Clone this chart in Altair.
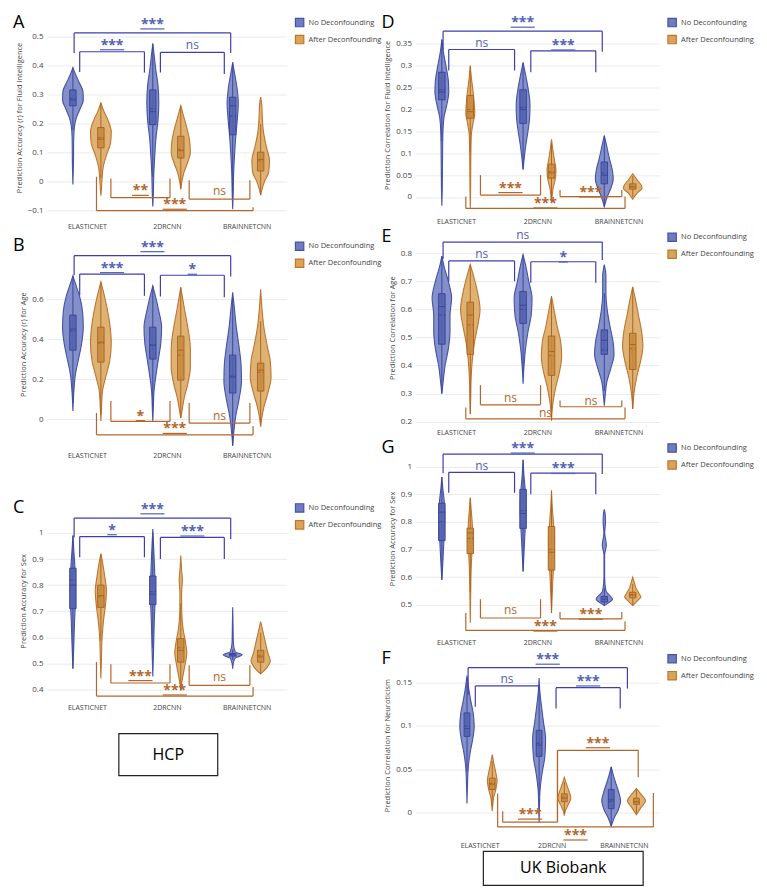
import altair as alt
import pandas as pd

FONT = "Open Sans"
CATS = ["ELASTICNET", "2DRCNN", "BRAINNETCNN"]
GROUPS = ["No Deconfounding", "After Deconfounding"]

VIOLIN_FILL = ["#6f7dc0", "#d8a45a"]
VIOLIN_STROKE = ["#4552a8", "#c0752f"]
BOX_FILL = ["#5563ae", "#c88c42"]
BOX_STROKE = ["#3b479c", "#ad6623"]
BRACKET = ["#3d3fae", "#b4672c"]
LABEL = ["#5262b6", "#b4672c"]
AXIS_GREY = "#444444"
GRID = "#ebebeb"

# Violin order in every panel: EN-No, EN-After, 2D-No, 2D-After, BNC-No, BNC-After
# profile = (value, half width in category units); box = (q1, median, q3, mean)
# bracket = (colour 0 blue / 1 orange, x1, x2, y of bar, y of left end, y of right end, label, label y)

A_VIOLINS = [
    [(0.392, 0), (0.37, 0.03), (0.34, 0.08), (0.31, 0.125), (0.28, 0.13), (0.25, 0.09), (0.22, 0.045), (0.19, 0.02), (0.15, 0.01), (0.05, 0.006), (-0.012, 0)],
    [(0.27, 0), (0.24, 0.04), (0.21, 0.09), (0.17, 0.13), (0.13, 0.12), (0.09, 0.07), (0.05, 0.03), (0.01, 0.015), (-0.03, 0.006), (-0.05, 0)],
    [(0.475, 0), (0.44, 0.015), (0.39, 0.035), (0.33, 0.065), (0.27, 0.075), (0.21, 0.065), (0.15, 0.04), (0.09, 0.025), (0.02, 0.012), (-0.05, 0.006), (-0.088, 0)],
    [(0.26, 0), (0.23, 0.03), (0.19, 0.07), (0.14, 0.11), (0.10, 0.12), (0.06, 0.08), (0.03, 0.04), (0.0, 0.015), (-0.028, 0)],
    [(0.41, 0), (0.37, 0.025), (0.32, 0.055), (0.27, 0.07), (0.22, 0.06), (0.16, 0.04), (0.10, 0.025), (0.03, 0.012), (-0.05, 0.006), (-0.097, 0)],
    [(0.29, 0), (0.26, 0.015), (0.22, 0.02), (0.17, 0.035), (0.12, 0.07), (0.07, 0.11), (0.03, 0.10), (0.0, 0.05), (-0.03, 0.015), (-0.048, 0)],
]
A_BOXES = [(0.26, 0.28, 0.315, 0.285), (0.115, 0.145, 0.185, 0.15), (0.195, 0.24, 0.315, 0.25),
           (0.08, 0.105, 0.155, 0.11), (0.16, 0.26, 0.29, 0.225), (0.035, 0.075, 0.10, 0.07)]
A_BRACKETS = [
    (0, -0.16, 1.80, 0.512, 0.443, 0.443, "***", 0.55),
    (0, -0.09, 0.72, 0.447, 0.377, 0.375, "***", 0.478),
    (0, 0.92, 1.72, 0.445, 0.375, 0.37, "ns", 0.47),
    (1, 0.30, 1.04, -0.057, 0.009, 0.009, "**", -0.025),
    (1, 1.28, 2.04, -0.062, 0.003, 0.003, "ns", -0.034),
    (1, 0.12, 2.08, -0.102, 0.015, -0.09, "***", -0.073),
]

B_VIOLINS = [
    [(0.717, 0), (0.68, 0.03), (0.62, 0.08), (0.54, 0.12), (0.46, 0.13), (0.38, 0.11), (0.30, 0.07), (0.22, 0.03), (0.14, 0.012), (0.04, 0)],
    [(0.687, 0), (0.64, 0.03), (0.57, 0.07), (0.48, 0.11), (0.38, 0.13), (0.29, 0.11), (0.21, 0.06), (0.14, 0.02), (0.06, 0.008), (-0.01, 0)],
    [(0.667, 0), (0.62, 0.03), (0.55, 0.07), (0.46, 0.11), (0.38, 0.10), (0.30, 0.07), (0.22, 0.04), (0.14, 0.015), (0.05, 0.006), (-0.01, 0)],
    [(0.66, 0), (0.60, 0.025), (0.52, 0.06), (0.43, 0.10), (0.35, 0.12), (0.26, 0.12), (0.18, 0.09), (0.10, 0.04), (0.04, 0.015), (0.005, 0)],
    [(0.634, 0), (0.56, 0.02), (0.46, 0.045), (0.36, 0.08), (0.27, 0.105), (0.19, 0.11), (0.10, 0.08), (0.02, 0.04), (-0.06, 0.015), (-0.134, 0)],
    [(0.65, 0), (0.56, 0.015), (0.46, 0.04), (0.37, 0.08), (0.29, 0.12), (0.21, 0.13), (0.13, 0.09), (0.06, 0.04), (0.0, 0.012), (-0.037, 0)],
]
B_BOXES = [(0.345, 0.45, 0.52, 0.44), (0.285, 0.385, 0.46, 0.38), (0.30, 0.37, 0.46, 0.37),
           (0.195, 0.345, 0.415, 0.32), (0.13, 0.21, 0.32, 0.215), (0.14, 0.245, 0.28, 0.235)]
B_BRACKETS = [
    (0, -0.16, 1.80, 0.818, 0.72, 0.714, "***", 0.873),
    (0, -0.09, 0.72, 0.726, 0.62, 0.617, "***", 0.768),
    (0, 0.92, 1.72, 0.72, 0.613, 0.61, "*", 0.76),
    (1, 0.30, 1.04, -0.012, 0.09, 0.09, "*", 0.027),
    (1, 1.28, 2.04, -0.02, 0.08, 0.08, "ns", 0.017),
    (1, 0.12, 2.08, -0.079, 0.03, -0.035, "***", -0.037),
]

C_VIOLINS = [
    [(0.99, 0), (0.93, 0.012), (0.87, 0.025), (0.80, 0.032), (0.73, 0.03), (0.66, 0.02), (0.58, 0.012), (0.48, 0)],
    [(0.92, 0), (0.88, 0.025), (0.83, 0.05), (0.78, 0.07), (0.73, 0.06), (0.67, 0.035), (0.60, 0.015), (0.52, 0.007), (0.442, 0)],
    [(1.015, 0), (0.95, 0.01), (0.88, 0.02), (0.80, 0.027), (0.74, 0.027), (0.66, 0.018), (0.56, 0.01), (0.45, 0)],
    [(0.913, 0), (0.86, 0.01), (0.82, 0.02), (0.77, 0.01), (0.70, 0.012), (0.63, 0.03), (0.58, 0.06), (0.54, 0.075), (0.49, 0.05), (0.44, 0.02), (0.397, 0)],
    [(0.715, 0), (0.65, 0.004), (0.58, 0.008), (0.545, 0.03), (0.533, 0.12), (0.52, 0.03), (0.50, 0.008), (0.48, 0)],
    [(0.66, 0), (0.62, 0.03), (0.58, 0.06), (0.54, 0.09), (0.51, 0.12), (0.485, 0.08), (0.46, 0)],
]
C_BOXES = [(0.71, 0.80, 0.865, 0.82), (0.715, 0.76, 0.80, 0.755), (0.725, 0.765, 0.835, 0.775),
           (0.505, 0.55, 0.595, 0.56), (0.528, 0.533, 0.538, 0.535), (0.505, 0.525, 0.55, 0.53)]
C_BRACKETS = [
    (0, -0.16, 1.80, 1.057, 0.983, 0.977, "***", 1.10),
    (0, -0.09, 0.72, 0.986, 0.907, 0.907, "*", 1.02),
    (0, 0.92, 1.72, 0.983, 0.90, 0.90, "***", 1.015),
    (1, 0.30, 1.04, 0.425, 0.497, 0.497, "***", 0.461),
    (1, 1.28, 2.04, 0.416, 0.493, 0.493, "ns", 0.448),
    (1, 0.12, 2.08, 0.375, 0.505, 0.41, "***", 0.406),
]

D_VIOLINS = [
    [(0.36, 0), (0.33, 0.02), (0.30, 0.05), (0.265, 0.08), (0.24, 0.085), (0.21, 0.06), (0.18, 0.025), (0.14, 0.012), (0.08, 0.008), (0.02, 0.005), (-0.02, 0)],
    [(0.30, 0), (0.27, 0.015), (0.24, 0.035), (0.21, 0.05), (0.19, 0.055), (0.17, 0.035), (0.14, 0.012), (0.08, 0.006), (0.02, 0.004), (-0.026, 0)],
    [(0.307, 0), (0.28, 0.03), (0.25, 0.06), (0.21, 0.085), (0.18, 0.08), (0.15, 0.06), (0.12, 0.035), (0.09, 0.015), (0.063, 0)],
    [(0.132, 0), (0.11, 0.015), (0.085, 0.035), (0.06, 0.055), (0.04, 0.045), (0.02, 0.02), (0.0, 0.006), (-0.012, 0)],
    [(0.14, 0), (0.12, 0.025), (0.09, 0.06), (0.06, 0.10), (0.04, 0.11), (0.02, 0.08), (0.0, 0.035), (-0.022, 0)],
    [(0.053, 0), (0.04, 0.05), (0.025, 0.11), (0.02, 0.115), (0.01, 0.06), (-0.005, 0)],
]
D_BOXES = [(0.222, 0.24, 0.285, 0.245), (0.18, 0.195, 0.232, 0.2), (0.168, 0.2, 0.245, 0.205),
           (0.043, 0.055, 0.075, 0.058), (0.03, 0.05, 0.08, 0.055), (0.018, 0.023, 0.03, 0.024)]
D_BRACKETS = [
    (0, -0.16, 1.80, 0.379, 0.336, 0.332, "***", 0.404),
    (0, -0.09, 0.72, 0.337, 0.289, 0.289, "ns", 0.351),
    (0, 0.92, 1.72, 0.334, 0.285, 0.285, "***", 0.352),
    (1, 0.30, 1.04, 0.0045, 0.05, 0.05, "***", 0.026),
    (1, 1.28, 2.04, 0.001, 0.016, 0.016, "***", 0.016),
    (1, 0.12, 2.08, -0.026, 0.001, 0.001, "***", -0.009),
]

E_VIOLINS = [
    [(0.79, 0), (0.75, 0.03), (0.70, 0.08), (0.64, 0.12), (0.58, 0.10), (0.52, 0.10), (0.46, 0.08), (0.40, 0.04), (0.34, 0.015), (0.30, 0)],
    [(0.76, 0), (0.72, 0.04), (0.66, 0.09), (0.60, 0.12), (0.54, 0.09), (0.48, 0.05), (0.42, 0.025), (0.35, 0.01), (0.28, 0.005), (0.227, 0)],
    [(0.795, 0), (0.76, 0.03), (0.70, 0.07), (0.64, 0.11), (0.58, 0.10), (0.52, 0.06), (0.46, 0.03), (0.40, 0.012), (0.335, 0)],
    [(0.647, 0), (0.60, 0.03), (0.54, 0.07), (0.48, 0.115), (0.43, 0.125), (0.38, 0.10), (0.32, 0.05), (0.26, 0.015), (0.204, 0)],
    [(0.76, 0), (0.72, 0.02), (0.66, 0.02), (0.60, 0.035), (0.54, 0.07), (0.48, 0.11), (0.44, 0.12), (0.39, 0.08), (0.34, 0.03), (0.29, 0.01), (0.257, 0)],
    [(0.68, 0), (0.64, 0.03), (0.58, 0.07), (0.52, 0.11), (0.47, 0.125), (0.42, 0.10), (0.36, 0.05), (0.30, 0.015), (0.245, 0)],
]
E_BOXES = [(0.476, 0.61, 0.656, 0.58), (0.44, 0.58, 0.626, 0.545), (0.55, 0.615, 0.664, 0.6),
           (0.365, 0.45, 0.505, 0.435), (0.44, 0.49, 0.527, 0.455), (0.386, 0.475, 0.515, 0.46)]
E_BRACKETS = [
    (0, -0.16, 1.80, 0.84, 0.78, 0.776, "ns", 0.867),
    (0, -0.09, 0.72, 0.773, 0.70, 0.70, "ns", 0.797),
    (0, 0.92, 1.72, 0.77, 0.695, 0.695, "*", 0.794),
    (1, 0.30, 1.04, 0.26, 0.33, 0.33, "ns", 0.286),
    (1, 1.28, 2.04, 0.253, 0.275, 0.275, "ns", 0.274),
    (1, 0.12, 2.08, 0.21, 0.25, 0.25, "ns", 0.23),
]

G_VIOLINS = [
    [(0.962, 0), (0.92, 0.012), (0.87, 0.03), (0.82, 0.035), (0.76, 0.03), (0.70, 0.02), (0.64, 0.01), (0.59, 0)],
    [(0.887, 0), (0.84, 0.012), (0.79, 0.025), (0.75, 0.028), (0.70, 0.022), (0.64, 0.012), (0.56, 0.006), (0.435, 0)],
    [(1.024, 0), (0.97, 0.01), (0.92, 0.025), (0.86, 0.035), (0.80, 0.03), (0.74, 0.02), (0.68, 0.01), (0.62, 0)],
    [(0.913, 0), (0.85, 0.01), (0.79, 0.025), (0.72, 0.035), (0.66, 0.03), (0.60, 0.018), (0.53, 0.008), (0.47, 0)],
    [(0.845, 0), (0.83, 0.01), (0.80, 0.015), (0.76, 0.005), (0.715, 0.025), (0.68, 0.004), (0.60, 0.004), (0.55, 0.02), (0.52, 0.10), (0.505, 0.04), (0.497, 0)],
    [(0.60, 0), (0.58, 0.02), (0.56, 0.04), (0.54, 0.08), (0.528, 0.10), (0.515, 0.06), (0.497, 0)],
]
G_BOXES = [(0.732, 0.835, 0.867, 0.8), (0.685, 0.76, 0.777, 0.74), (0.776, 0.83, 0.917, 0.84),
           (0.625, 0.69, 0.783, 0.7), (0.51, 0.52, 0.53, 0.53), (0.525, 0.535, 0.545, 0.537)]
G_BRACKETS = [
    (0, -0.16, 1.80, 1.045, 0.976, 0.973, "***", 1.074),
    (0, -0.09, 0.72, 0.979, 0.905, 0.905, "ns", 1.002),
    (0, 0.92, 1.72, 0.976, 0.90, 0.90, "***", 1.0),
    (1, 0.30, 1.04, 0.452, 0.52, 0.52, "ns", 0.482),
    (1, 1.28, 2.04, 0.449, 0.474, 0.474, "***", 0.473),
    (1, 0.12, 2.08, 0.407, 0.47, 0.44, "***", 0.43),
]

F_VIOLINS = [
    [(0.158, 0), (0.145, 0.02), (0.13, 0.05), (0.115, 0.085), (0.10, 0.10), (0.085, 0.08), (0.07, 0.045), (0.055, 0.02), (0.035, 0.008), (0.011, 0)],
    [(0.067, 0), (0.058, 0.02), (0.048, 0.045), (0.037, 0.067), (0.027, 0.05), (0.018, 0.02), (0.008, 0.006), (0.002, 0)],
    [(0.155, 0), (0.14, 0.01), (0.125, 0.03), (0.105, 0.06), (0.085, 0.09), (0.065, 0.08), (0.045, 0.04), (0.025, 0.012), (0.005, 0.005), (-0.011, 0)],
    [(0.041, 0), (0.033, 0.03), (0.025, 0.065), (0.017, 0.09), (0.009, 0.05), (0.002, 0.012), (-0.003, 0)],
    [(0.053, 0), (0.045, 0.025), (0.035, 0.06), (0.025, 0.10), (0.014, 0.13), (0.004, 0.1), (-0.006, 0.04), (-0.015, 0)],
    [(0.028, 0), (0.022, 0.06), (0.014, 0.125), (0.007, 0.07), (-0.002, 0)],
]
F_BOXES = [(0.088, 0.097, 0.115, 0.1), (0.027, 0.033, 0.04, 0.034), (0.065, 0.078, 0.095, 0.08),
           (0.013, 0.017, 0.022, 0.018), (0.005, 0.015, 0.027, 0.013), (0.01, 0.013, 0.017, 0.013)]
F_BRACKETS = [
    (0, -0.16, 2.05, 0.167, 0.136, 0.143, "***", 0.179),
    (0, -0.06, 0.82, 0.146, 0.122, 0.14, "ns", 0.154),
    (0, 1.06, 1.95, 0.144, 0.12, 0.12, "***", 0.154),
    (1, 0.32, 1.08, -0.0105, 0.002, 0.072, "***", 0.001),
    (1, 1.08, 2.20, 0.072, -0.0105, 0.041, "***", 0.083),
    (1, 0.25, 2.41, -0.016, 0.022, 0.023, "***", -0.023),
]

PANELS = {
    "A": dict(ytitle="Prediction Accuracy (r) for Fluid Intelligence", ydom=[-0.125, 0.565],
              ticks=[-0.1, 0, 0.1, 0.2, 0.3, 0.4, 0.5], xdom=[-0.5, 2.5], height=200,
              violins=A_VIOLINS, boxes=A_BOXES, brackets=A_BRACKETS),
    "B": dict(ytitle="Prediction Accuracy (r) for Age", ydom=[-0.14, 0.89],
              ticks=[0, 0.2, 0.4, 0.6], xdom=[-0.5, 2.5], height=206,
              violins=B_VIOLINS, boxes=B_BOXES, brackets=B_BRACKETS),
    "C": dict(ytitle="Prediction Accuracy for Sex", ydom=[0.365, 1.115],
              ticks=[0.4, 0.5, 0.6, 0.7, 0.8, 0.9, 1], xdom=[-0.5, 2.5], height=196,
              violins=C_VIOLINS, boxes=C_BOXES, brackets=C_BRACKETS),
    "D": dict(ytitle="Prediction Correlation for Fluid Intelligence", ydom=[-0.035, 0.41],
              ticks=[0, 0.05, 0.1, 0.15, 0.2, 0.25, 0.3, 0.35], xdom=[-0.5, 2.5], height=195,
              violins=D_VIOLINS, boxes=D_BOXES, brackets=D_BRACKETS),
    "E": dict(ytitle="Prediction Correlation for Age", ydom=[0.195, 0.875],
              ticks=[0.2, 0.3, 0.4, 0.5, 0.6, 0.7, 0.8], xdom=[-0.5, 2.5], height=191,
              violins=E_VIOLINS, boxes=E_BOXES, brackets=E_BRACKETS),
    "G": dict(ytitle="Prediction Accuracy for Sex", ydom=[0.395, 1.085],
              ticks=[0.5, 0.6, 0.7, 0.8, 0.9, 1], xdom=[-0.5, 2.5], height=191,
              violins=G_VIOLINS, boxes=G_BOXES, brackets=G_BRACKETS),
    "F": dict(ytitle="Prediction Correlation for Neuroticism", ydom=[-0.027, 0.183],
              ticks=[0, 0.05, 0.1, 0.15], xdom=[-0.89, 2.49], height=183,
              violins=F_VIOLINS, boxes=F_BOXES, brackets=F_BRACKETS),
}

OFF = 0.175
BOX_HW = 0.04
LABEL_EXPR = "[" + ",".join("'%s'" % c for c in CATS) + "][datum.value]"
W_LEFT, W_RIGHT = 240, 244


def make_panel(letter, width):
    p = PANELS[letter]
    ppu = width / (p["xdom"][1] - p["xdom"][0])
    xs = alt.Scale(domain=p["xdom"], nice=False, zero=False)
    ys = alt.Scale(domain=p["ydom"], nice=False, zero=False)
    xaxis = alt.Axis(values=[0, 1, 2], labelExpr=LABEL_EXPR, grid=False, domain=False, ticks=False,
                     title=None, labelFont=FONT, labelFontSize=7, labelColor=AXIS_GREY, labelPadding=5)
    yaxis = alt.Axis(values=p["ticks"], format="~g", grid=True, gridColor=GRID, domain=False, ticks=False,
                     title=p["ytitle"], titleFont=FONT, titleFontSize=7.5, titleFontWeight="normal",
                     titleColor=AXIS_GREY, labelFont=FONT, labelFontSize=8, labelColor=AXIS_GREY,
                     labelPadding=4, titlePadding=4)

    def X(f):
        return alt.X(f + ":Q", scale=xs, axis=xaxis)

    def Y(f):
        return alt.Y(f + ":Q", scale=ys, axis=yaxis)

    vrows, brows = [], []
    for i, prof in enumerate(p["violins"]):
        g = i % 2
        c = i // 2 + (OFF if g else -OFF)
        for v, hw in prof:
            vrows.append({"vid": i, "group": GROUPS[g], "v": v, "xl": c - hw, "xr": c + hw})
        q1, med, q3, mean = p["boxes"][i]
        vals = [v for v, _ in prof]
        iqr = q3 - q1
        brows.append({"g": g, "c": c, "bl": c - BOX_HW, "br": c + BOX_HW, "q1": q1, "med": med,
                      "q3": q3, "mean": mean, "lo": max(min(vals), q1 - 1.5 * iqr),
                      "hi": min(max(vals), q3 + 1.5 * iqr), "col": BOX_STROKE[g]})
    vdf = pd.DataFrame(vrows)
    bdf = pd.DataFrame(brows)

    segs, ns_lab, star_lab, under = [], [], [], []
    for g, x1, x2, yh, y1, y2, lab, ly in p["brackets"]:
        col = BRACKET[g]
        segs += [{"x": x1, "x2": x2, "y": yh, "y2": yh, "col": col},
                 {"x": x1, "x2": x1, "y": yh, "y2": y1, "col": col},
                 {"x": x2, "x2": x2, "y": yh, "y2": y2, "col": col}]
        lx = (x1 + x2) / 2
        if lab == "ns":
            ns_lab.append({"lx": lx, "ly": ly, "t": lab, "col": LABEL[g]})
        else:
            star_lab.append({"lx": lx, "ly": ly, "t": lab, "col": LABEL[g]})
            uw = (len(lab) * 7.4 / 2 + 1) / ppu
            under.append({"ul": lx - uw, "ur": lx + uw, "ly": ly, "col": LABEL[g]})
    sdf = pd.DataFrame(segs)
    ndf = pd.DataFrame(ns_lab, columns=["lx", "ly", "t", "col"])
    tdf = pd.DataFrame(star_lab, columns=["lx", "ly", "t", "col"])
    udf = pd.DataFrame(under, columns=["ul", "ur", "ly", "col"])

    legend = alt.Legend(title=None, symbolType="square", symbolSize=70, symbolStrokeWidth=1.2,
                        labelFont=FONT, labelFontSize=7.5, labelColor=AXIS_GREY, offset=8, rowPadding=3)
    violin = alt.Chart(vdf).mark_area(orient="horizontal", interpolate="monotone", fillOpacity=0.85,
                                      strokeWidth=1.1).encode(
        y=Y("v"), x=X("xl"), x2="xr", detail="vid:N",
        fill=alt.Fill("group:N", scale=alt.Scale(domain=GROUPS, range=VIOLIN_FILL), legend=legend),
        stroke=alt.Stroke("group:N", scale=alt.Scale(domain=GROUPS, range=VIOLIN_STROKE), legend=legend),
    )
    layers = [violin]
    layers.append(alt.Chart(bdf).mark_rule(strokeWidth=1).encode(
        x=X("c"), y=Y("lo"), y2="hi", color=alt.Color("col:N", scale=None)))
    for g in (0, 1):
        layers.append(alt.Chart(bdf[bdf.g == g]).mark_rect(
            fill=BOX_FILL[g], stroke=BOX_STROKE[g], strokeWidth=1, fillOpacity=0.9).encode(
            x=X("bl"), x2="br", y=Y("q1"), y2="q3"))
    layers.append(alt.Chart(bdf).mark_rule(strokeWidth=1).encode(
        x=X("bl"), x2="br", y=Y("med"), color=alt.Color("col:N", scale=None)))
    layers.append(alt.Chart(bdf).mark_rule(strokeWidth=1, strokeDash=[3, 2]).encode(
        x=X("bl"), x2="br", y=Y("mean"), color=alt.Color("col:N", scale=None)))
    layers.append(alt.Chart(sdf).mark_rule(strokeWidth=1.2).encode(
        x=X("x"), x2="x2", y=Y("y"), y2="y2", color=alt.Color("col:N", scale=None)))
    layers.append(alt.Chart(ndf).mark_text(fontSize=12, font=FONT, baseline="middle").encode(
        x=X("lx"), y=Y("ly"), text="t:N", color=alt.Color("col:N", scale=None)))
    layers.append(alt.Chart(tdf).mark_text(fontSize=14, font=FONT, fontWeight="bold", baseline="middle",
                                           dy=3).encode(
        x=X("lx"), y=Y("ly"), text="t:N", color=alt.Color("col:N", scale=None)))
    layers.append(alt.Chart(udf).mark_rule(strokeWidth=1.2, yOffset=7).encode(
        x=X("ul"), x2="ur", y=Y("ly"), color=alt.Color("col:N", scale=None)))
    layers.append(alt.Chart(pd.DataFrame({"t": [letter]})).mark_text(
        align="left", baseline="top", fontSize=18, font=FONT, color="black").encode(
        text="t:N", x=alt.value(-34), y=alt.value(-4)))
    return alt.layer(*layers).properties(width=width, height=p["height"])


def label_box(text, width, height, x0, x1):
    df = pd.DataFrame({"t": [text]})
    rect = alt.Chart(df).mark_rect(fill="white", stroke="#222222", strokeWidth=1.2).encode(
        x=alt.value(x0), x2=alt.value(x1), y=alt.value(0), y2=alt.value(height))
    txt = alt.Chart(df).mark_text(fontSize=16, font=FONT, color="black").encode(
        text="t:N", x=alt.value((x0 + x1) / 2), y=alt.value(height / 2))
    return alt.layer(rect, txt).properties(width=width, height=height)


def ind(c):
    return c.resolve_scale(fill="independent", stroke="independent").resolve_legend(
        fill="independent", stroke="independent")


A = make_panel("A", W_LEFT)
B = make_panel("B", W_LEFT)
C = make_panel("C", W_LEFT)
D = make_panel("D", W_RIGHT)
E = make_panel("E", W_RIGHT)
G = make_panel("G", W_RIGHT)
F = make_panel("F", W_RIGHT)

hcp = label_box("HCP", W_LEFT, 42, 72, 171)
ukb = label_box("UK Biobank", W_RIGHT, 34, 68, 228)

left = ind(alt.vconcat(ind(alt.vconcat(ind(alt.vconcat(A, B, spacing=8)), C, spacing=40)), hcp, spacing=22))
right = ind(alt.vconcat(ind(alt.vconcat(D, E, G, F, spacing=4)), ukb, spacing=2))

chart = ind(alt.hconcat(left, right, spacing=0)).configure(font=FONT).configure_view(
    strokeWidth=0, stroke="transparent")

chart.save("out.html", embed_options={"renderer": "svg", "actions": False})
